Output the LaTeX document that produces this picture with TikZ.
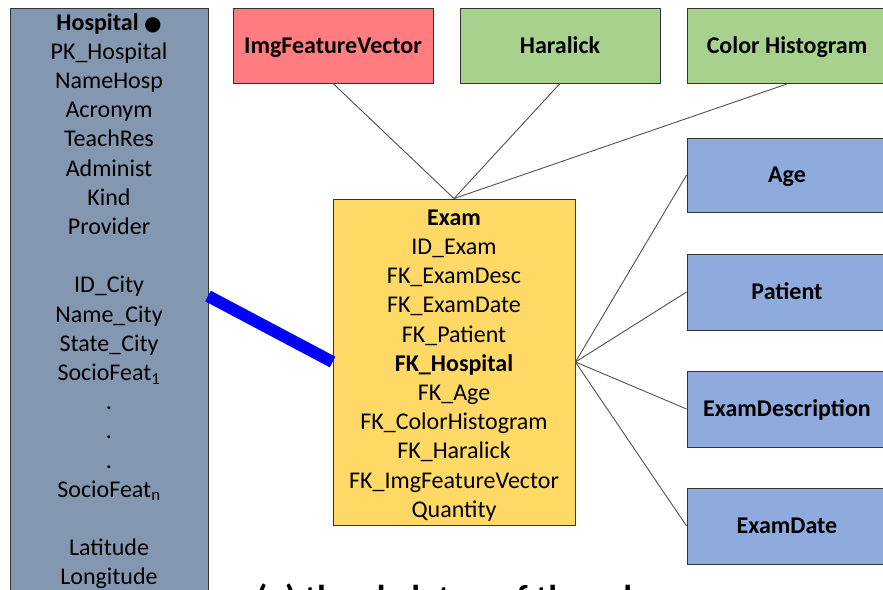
\documentclass[tikz,border=0pt]{standalone}
\usepackage{fontspec}
\setmainfont{Carlito}
\newfontfamily\symfont{DejaVu Sans}
\definecolor{hospfill}{HTML}{8497B0}
\definecolor{examfill}{HTML}{FFD966}
\definecolor{imgred}{HTML}{FF7C80}
\definecolor{featgreen}{HTML}{A9D18E}
\definecolor{dimblue}{HTML}{8FAADC}
\definecolor{linkgray}{HTML}{505050}
\begin{document}
\begin{tikzpicture}[x=1pt,y=-1pt,
  txt/.style={font=\fontsize{24}{29.2}\selectfont},
  boxtxt/.style={font=\bfseries\fontsize{24}{29.2}\selectfont, text height=18pt, text depth=2.6pt},
  tbl/.style={draw=black!80, line width=0.9pt, inner sep=0pt},
  featbox/.style={tbl, boxtxt, minimum width=200pt, minimum height=75pt},
  dimbox/.style={tbl, boxtxt, fill=dimblue, minimum width=200pt, minimum height=76pt},
  link/.style={draw=linkgray, line width=0.9pt},
  hosplink/.style={draw=blue, line width=12pt}]
\useasboundingbox (0,0) rectangle (883,589);
\clip (0,0) rectangle (883,589);

% Hospital dimension (runs past the lower edge)
\node[tbl, fill=hospfill, minimum width=198pt, minimum height=600pt, anchor=north west] (hosp) at (10,8) {};
\node[txt, align=center, anchor=north, inner sep=0pt] (hosptxt) at (109,13) {%
  \textbf{Hospital} {\symfont\fontsize{20}{24}\selectfont ●}\\
  PK\_Hospital\\ NameHosp\\ Acronym\\ TeachRes\\ Administ\\ Kind\\ Provider\\
  \mbox{}\\
  ID\_City\\ Name\_City\\ State\_City\\ SocioFeat\textsubscript{1}\\
  .\\ .\\ .\\
  SocioFeat\textsubscript{n}\\
  \mbox{}\\
  Latitude\\ Longitude};

% Fact table
\node[tbl, fill=examfill, minimum width=242pt, minimum height=326pt] (exam) at (454,362) {};
\node[txt, align=center, inner sep=0pt] (examtxt) at (454,365.5) {%
  \textbf{Exam}\\ ID\_Exam\\ FK\_ExamDesc\\ FK\_ExamDate\\ FK\_Patient\\
  \textbf{FK\_Hospital}\\ FK\_Age\\ FK\_ColorHistogram\\ FK\_Haralick\\
  FK\_ImgFeatureVector\\ Quantity};

% Image feature dimensions
\node[featbox, fill=imgred] (ifv) at (333,45.5) {ImgFeatureVector};
\node[featbox, fill=featgreen] (har) at (560,45.5) {Haralick};
\node[featbox, fill=featgreen] (chist) at (787,46) {Color Histogram};

% Other dimensions
\node[dimbox, minimum height=74pt] (age) at (787,175) {Age};
\node[dimbox] (pat) at (787,292) {Patient};
\node[dimbox] (edesc) at (787,409) {ExamDescription};
\node[dimbox] (edate) at (787,526) {ExamDate};

% Connectors
\draw[link] (exam.north) -- (ifv.south);
\draw[link] (exam.north) -- (har.south);
\draw[link] (exam.north) -- (chist.south);
\draw[link] (exam.east) -- (age.west);
\draw[link] (exam.east) -- (pat.west);
\draw[link] (exam.east) -- (edesc.west);
\draw[link] (exam.east) -- (edate.west);

\coordinate (hospjoin) at (208,296);
\draw[hosplink] (hospjoin) -- (exam.west);

% Caption
\node[font=\bfseries\fontsize{36}{40}\selectfont, anchor=north west, inner sep=0pt] (caption) at (256,584) {(a) the skeleton of the schema};
\end{tikzpicture}
\end{document}
